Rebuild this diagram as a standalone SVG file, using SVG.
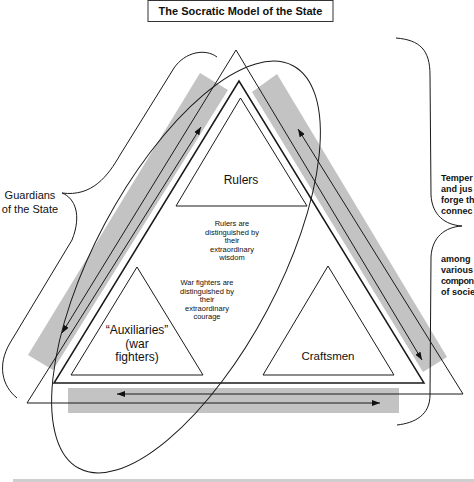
<svg xmlns="http://www.w3.org/2000/svg" width="474" height="482" viewBox="0 0 474 482">
<style>
.ln{fill:none;stroke:#1a1a1a;stroke-width:1}
.tri{fill:#fff;stroke:#1a1a1a;stroke-width:1}
.band{fill:#c3c3c3;stroke:none}
.lbl{font-family:"Liberation Sans",Arial,sans-serif;fill:#111;text-anchor:middle}
.big{font-size:12px}
.small{font-size:7.5px}
.bold{font-family:"Liberation Sans",Arial,sans-serif;font-weight:bold;fill:#111;font-size:9px}
</style>
<defs>
<marker id="ah" markerUnits="userSpaceOnUse" markerWidth="8" markerHeight="6" refX="8" refY="3" orient="auto">
<path d="M0,0 L8,3 L0,6 z" fill="#111"/>
</marker>
</defs>
<rect width="474" height="482" fill="#fff"/>
<g id="title">
<rect x="148" y="0.5" width="185" height="21" fill="#fff" stroke="#333" stroke-width="1"/>
<text x="240.5" y="15" class="lbl" style="font-weight:bold;font-size:11px">The Socratic Model of the State</text>
</g>
<g id="bands">
<polygon class="band" points="200,73 228,90 53,370 28,355"/>
<polygon class="band" points="252,92 277,74 447,357 423,372"/>
<rect class="band" x="68" y="388" width="331" height="25"/>
</g>
<g id="frame">
<polygon class="tri" style="stroke-width:1.5" points="239,81 54,383 424,383"/>
</g>
<g id="rulers">
<polygon class="tri" points="240.5,98 176,206 307,206"/>
<text x="241" y="184" class="lbl big">Rulers</text>
</g>
<g id="auxiliaries">
<polygon class="tri" points="137,267 71,375 203,375"/>
<text class="lbl big" x="137"><tspan x="137" y="334">“Auxiliaries”</tspan><tspan x="137" y="348">(war</tspan><tspan x="137" y="361">fighters)</tspan></text>
</g>
<g id="craftsmen">
<polygon class="tri" points="328,266 263,375 394,375"/>
<text x="328" y="360" class="lbl" style="font-size:11.5px">Craftsmen</text>
</g>
<g id="notes">
<text class="lbl small"><tspan x="232" y="226">Rulers are</tspan><tspan x="232" y="234.5">distinguished by</tspan><tspan x="232" y="243">their</tspan><tspan x="232" y="251.5">extraordinary</tspan><tspan x="232" y="260">wisdom</tspan></text>
<text class="lbl small"><tspan x="207" y="285">War fighters are</tspan><tspan x="207" y="293.5">distinguished by</tspan><tspan x="207" y="302">their</tspan><tspan x="207" y="310.5">extraordinary</tspan><tspan x="207" y="319">courage</tspan></text>
</g>
<g id="guardians">
<path class="ln" d="M217,57 C205,48 185,52 174,68 L120,155 C108,176 92,197 62,193 C75,198 82,215 72,240 L10,343 C-3,365 2,386 17,398"/>
<text class="lbl" style="font-size:11px"><tspan x="30" y="199">Guardians</tspan><tspan x="30" y="213">of the State</tspan></text>
</g>
<g id="temperance">
<path class="ln" d="M396,38 C420,40 430,50 430,75 L431,195 C432,215 445,225 462,226 C445,227 432,237 431,257 L430,395 C430,415 415,423 397,425"/>
<text class="bold"><tspan x="441" y="181">Temper</tspan><tspan x="441" y="192">and jus</tspan><tspan x="441" y="203">forge th</tspan><tspan x="441" y="214">connec</tspan></text>
<text class="bold"><tspan x="441" y="262">among</tspan><tspan x="441" y="273">various</tspan><tspan x="441" y="284" style="letter-spacing:-0.4px">compon</tspan><tspan x="441" y="295">of socie</tspan></text>
</g>
<g id="connectors">
<ellipse class="ln" cx="186" cy="267" rx="228" ry="92" transform="rotate(-62 186 267)"/>
<line class="ln" x1="236" y1="50" x2="62" y2="333" marker-end="url(#ah)"/>
<line class="ln" x1="236" y1="50" x2="422" y2="360" marker-end="url(#ah)"/>
<line class="ln" x1="27" y1="403" x2="201" y2="127" marker-end="url(#ah)"/>
<line class="ln" x1="463" y1="394" x2="298" y2="129" marker-end="url(#ah)"/>
<line class="ln" x1="463" y1="394" x2="117" y2="394" marker-end="url(#ah)"/>
<line class="ln" x1="27" y1="403" x2="380" y2="403" marker-end="url(#ah)"/>
</g>
<rect x="13" y="479" width="461" height="3" fill="#cfcfcf"/>
</svg>
